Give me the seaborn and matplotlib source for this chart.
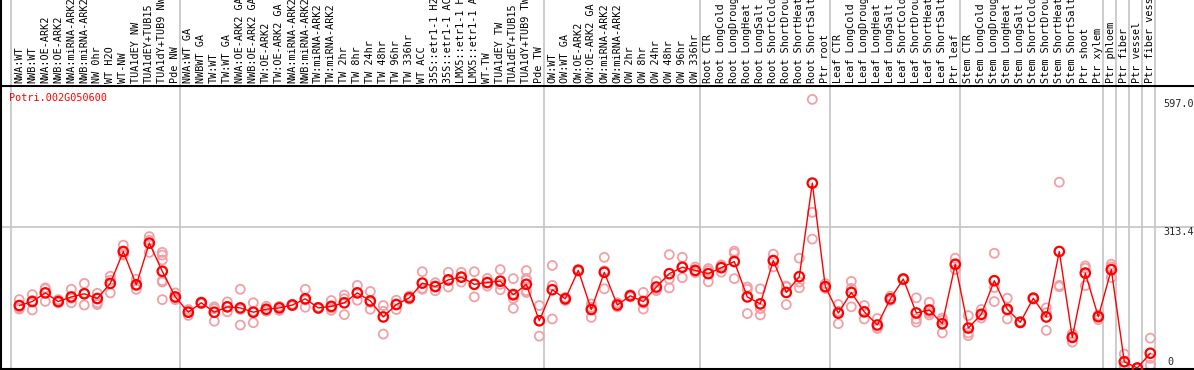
import numpy as np
import pandas as pd
import seaborn as sns
import matplotlib.pyplot as plt
import matplotlib.transforms as mtransforms

# Sample labels (in plotting order)
labels = [
    'NWA:WT', 'NWB:WT', 'NWA:OE-ARK2', 'NWB:OE-ARK2', 'NWA:miRNA-ARK2', 'NWB:miRNA-ARK2',
    'NW 0hr', 'WT H2O', 'WT-NW', 'TUA1dEY NW', 'TUA1dEY+TUB15', 'TUA1dY+TUB9 NW', 'Pde NW',
    'NWA:WT GA', 'NWBWT GA', 'TW:WT', 'TW:WT GA', 'NWA:OE-ARK2 GA', 'NWB:OE-ARK2 GA',
    'TW:OE-ARK2', 'TW:OE-ARK2 GA', 'NWA:miRNA-ARK2', 'NWB:miRNA-ARK2', 'TW:miRNA-ARK2',
    'TW:miRNA-ARK2', 'TW 2hr', 'TW 8hr', 'TW 24hr', 'TW 48hr', 'TW 96hr', 'TW 336hr',
    'WT ACC', '35S::etr1-1 H2O', '35S::etr1-1 ACC', 'LMX5::etr1-1 H2O', 'LMX5::etr1-1 ACC',
    'WT-TW', 'TUA1dEY TW', 'TUA1dEY+TUB15', 'TUA1dY+TUB9 TW', 'Pde TW',
    'OW:WT', 'OW:WT GA', 'OW:OE-ARK2', 'OW:OE-ARK2 GA', 'OW:miRNA-ARK2', 'OW:miRNA-ARK2',
    'OW 2hr', 'OW 8hr', 'OW 24hr', 'OW 48hr', 'OW 96hr', 'OW 336hr',
    'Root CTR', 'Root LongCold', 'Root LongDrought', 'Root LongHeat', 'Root LongSalt',
    'Root ShortCold', 'Root ShortDrought', 'Root ShortHeat', 'Root ShortSalt', 'Ptr root',
    'Leaf CTR', 'Leaf LongCold', 'Leaf LongDrought', 'Leaf LongHeat', 'Leaf LongSalt',
    'Leaf ShortCold', 'Leaf ShortDrought', 'Leaf ShortHeat', 'Leaf ShortSalt', 'Ptr leaf',
    'Stem CTR', 'Stem LongCold', 'Stem LongDrought', 'Stem LongHeat', 'Stem LongSalt',
    'Stem ShortCold', 'Stem ShortDrought', 'Stem ShortHeat', 'Stem ShortSalt',
    'Ptr shoot', 'Ptr xylem', 'Ptr phloem', 'Ptr fiber', 'Ptr vessel', 'Ptr fiber vessel',
]

# number of samples in each experiment block
group_sizes = [13, 28, 12, 10, 10, 11, 1, 1, 1, 1]

gene = 'Potri.002G050600'

# mean expression per sample
means = [
    138.8, 147.7, 167, 147.7, 158, 165, 154.5, 188, 259, 185, 277.6, 215, 158,
    124, 145, 124, 136, 133.6, 124, 130.6, 133.6, 140, 153.8, 133.6, 137, 145, 167,
    149, 113.5, 141, 156, 188.7, 181, 196, 202, 186, 190, 193, 162.7, 186, 105,
    174, 153.8, 217, 130, 212.7, 140, 160.5, 147.7, 180, 209.7, 223.9, 217,
    209.7, 223, 236.6, 158, 142.6, 238.8, 167.9, 203, 411, 181,
    122, 168, 124.7, 95.6, 153.8, 197.7, 122.4, 129, 98.5, 230.6,
    88.8, 119.4, 194, 130.6, 101.5, 155, 113.4, 259, 68, 211, 114,
    218.6, 14, 0, 32.8,
]

# individual replicates per sample
replicates = [
    [152, 131, 133.6], [163, 129, 150], [178, 176, 148], [152, 145, 146],
    [175, 145, 155], [188, 140, 166], [166, 145, 141], [204, 195, 167],
    [273, 251, 253], [197, 175, 183], [292, 257, 284], [257, 251, 240, 194, 191, 152],
    [167, 152, 155],
    [130, 117, 125], [143, 147, 145], [136, 104, 132], [147, 125, 136],
    [175, 95.5, 130], [145, 100.7, 126], [137, 126, 129], [137, 128, 136],
    [140, 138, 142], [175, 135, 151], [135, 132, 134], [150, 128, 133],
    [162, 118.6, 154], [183.6, 150.7, 167], [170, 130.6, 146], [138.8, 75.4, 126],
    [150.7, 130, 142], [153, 160, 155], [214, 175, 177], [189.6, 171.7, 182],
    [212.7, 180, 195], [212.7, 202, 191], [214, 158, 186], [199, 182, 189],
    [218.7, 174, 186], [198.6, 154.5, 132.7, 165], [216.5, 199, 195.4, 172, 167.9],
    [138.8, 70.9, 105],
    [228, 183.6, 109], [157, 150, 154], [219, 215, 217], [142.6, 112.6, 135],
    [246, 176, 216], [145, 136, 139], [163, 158, 160], [168, 131, 144],
    [193, 172, 175], [252, 197.7, 178], [246, 200.8, 225], [224.5, 212, 215],
    [216.5, 191.8, 221], [229, 213, 227], [259.7, 255, 198.6], [180, 175, 121],
    [176, 132, 118], [253, 238.8, 225], [182, 141, 180], [244, 191, 178.3],
    [597.0, 346, 286.5], [187.6, 177, 178],
    [141, 98.5, 126], [192.5, 177, 136], [139, 109, 126], [110, 88, 89],
    [159.6, 152, 150], [199, 198, 196], [156, 109, 102], [146, 118, 123],
    [111, 78, 106], [244, 218.7, 229],
    [116.4, 72, 78], [130, 111, 117], [255, 147.7, 179], [155, 109, 128],
    [103, 100, 101.5], [156, 153, 156], [133.6, 83.6, 123], [413, 183.6, 180.6],
    [70, 57.5, 76], [227, 222, 183], [118, 107.5, 116],
    [230.6, 224.5, 201], [31, 3.7, 5], [0, 0, 0], [66.4, 21.6, 6],
]

ytick_values = [597.0, 313.4, 0]
ytop = 626.8

# long-form tables
mean_df = pd.DataFrame({'sample': np.arange(len(means)), 'value': means})
rep_df = pd.DataFrame(
    [(i, v) for i, reps in enumerate(replicates) for v in reps],
    columns=['sample', 'value'],
)

sns.set_style('white')
plt.rcParams['font.family'] = ['DejaVu Sans Mono']

W, H = 1194, 370
fig = plt.figure(figsize=(W / 100, H / 100), dpi=100)

# plot area (pixels: x 1..1194, y 86..369) and header (y 0..85)
ax = fig.add_axes([1 / W, 1 / H, (W - 1) / W, 283 / H])
hax = fig.add_axes([1 / W, 285 / H, (W - 1) / W, 85 / H], sharex=ax)

x0 = -18.3 / 13
x1 = x0 + (W - 1) / 13
ax.set_xlim(x0, x1)
ax.set_ylim(-2.2, ytop)
hax.set_ylim(0, 1)

grid_c = '#c4c4c4'

# block separators
bounds = np.cumsum([0] + group_sizes) - 0.62
for b in bounds:
    ax.axvline(b, color=grid_c, lw=1.2, zorder=0)
    hax.axvline(b, color=grid_c, lw=1.2, zorder=0)

ax.axhline(ytick_values[1], color=grid_c, lw=1.2, zorder=0)

# replicates
sns.scatterplot(data=rep_df, x='sample', y='value', ax=ax, marker='o', s=42,
                facecolor='none', edgecolor='#f0a0a6', linewidth=1.3,
                legend=False, zorder=2, clip_on=False)
# means
sns.lineplot(data=mean_df, x='sample', y='value', ax=ax, color='red', lw=1,
             zorder=3, legend=False)
sns.scatterplot(data=mean_df, x='sample', y='value', ax=ax, marker='o', s=46,
                facecolor='none', edgecolor='red', linewidth=1.6,
                legend=False, zorder=4, clip_on=False)

ax.set_xticks([])
ax.set_yticks([])
ax.set_xlabel('')
ax.set_ylabel('')
hax.set_xticks([])
hax.set_yticks([])

for a in (ax, hax):
    for side in ['left', 'right', 'top', 'bottom']:
        a.spines[side].set_visible(False)
    a.spines['left'].set_visible(True)
    a.spines['left'].set_color('black')
    a.spines['left'].set_linewidth(1.5)
ax.spines['top'].set_visible(True)
ax.spines['top'].set_color('black')
ax.spines['top'].set_linewidth(1.5)
ax.spines['bottom'].set_visible(True)
ax.spines['bottom'].set_color('black')
ax.spines['bottom'].set_linewidth(1.5)

# sample labels in header
htrans = mtransforms.blended_transform_factory(hax.transData, hax.transAxes)
for i, lab in enumerate(labels):
    hax.text(i, 0.02, lab, rotation=90, ha='center', va='bottom',
             fontsize=7.3, color='black', transform=htrans, clip_on=True)

# value labels on the right
ytrans = mtransforms.blended_transform_factory(ax.transAxes, ax.transData)
xlab = (1163 - 1) / (W - 1)
ax.text(xlab, ytick_values[0], f'{ytick_values[0]:.1f}', ha='left', va='top',
        fontsize=7.3, transform=ytrans)
ax.text(xlab, ytick_values[1], f'{ytick_values[1]:.1f}', ha='left', va='top',
        fontsize=7.3, transform=ytrans)
ax.text(xlab + 0.004, 2, '0', ha='left', va='bottom', fontsize=7.3, transform=ytrans)

# gene name
ax.text(8 / (W - 1), 0.958, gene, transform=ax.transAxes, color='red',
        fontsize=7.3, ha='left', va='center')

fig.savefig('out.png', dpi=100)
